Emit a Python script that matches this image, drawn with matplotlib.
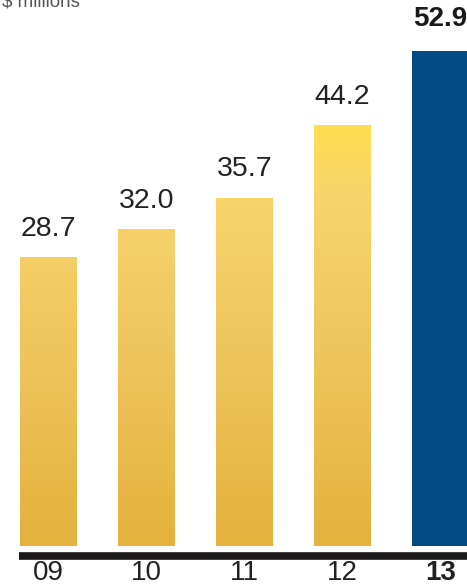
import matplotlib.pyplot as plt
from matplotlib.colors import LinearSegmentedColormap
from matplotlib.patches import Rectangle
import numpy as np

years = ['09', '10', '11', '12', '13']
values = [28.7, 32.0, 35.7, 44.2, 52.9]
labels = ['28.7', '32.0', '35.7', '44.2', '52.9']

fig = plt.figure(figsize=(4.67, 5.86), dpi=100)
ax = fig.add_axes([0, 0, 1, 1])
ax.axis('off')

bottom = -5.25
width = 0.58
x = np.arange(len(years))

# gold gradient, fixed to the y axis so taller bars get brighter tops
gold = LinearSegmentedColormap.from_list('gold', [
    (0.0, '#E4B23D'),
    (0.35, '#EDC35A'),
    (0.70, '#F8D46C'),
    (0.85, '#FFDD50'),
    (1.0, '#FFDF4E')])
grad = np.linspace(0, 1, 256).reshape(-1, 1)

for i, v in enumerate(values):
    rect = Rectangle((x[i] - width / 2, bottom), width, v - bottom,
                     facecolor='#024B85' if i == 4 else 'none',
                     edgecolor='none')
    ax.add_patch(rect)
    if i < 4:
        im = ax.imshow(grad, cmap=gold, aspect='auto', origin='lower',
                       extent=(x[i] - width / 2, x[i] + width / 2, bottom, 53))
        im.set_clip_path(rect)
        ax.text(x[i], v + 1.8, labels[i], ha='center', va='bottom',
                fontsize=20.5, family='Liberation Sans', color='#222222')
    else:
        ax.text(x[i], v + 2.2, labels[i], ha='center', va='bottom',
                fontsize=20, fontweight='heavy', family='Liberation Sans',
                color='#1a1a1a')

ax.set_xlim(-0.49, 4.27)
ax.set_ylim(-9.93, 58.9)

# baseline
ax.plot([-0.30, 4.27], [-6.35, -6.35], color='#1c1a1a', lw=5.5,
        solid_capstyle='butt')

for i, yr in enumerate(years):
    ax.text(x[i], -8.45, yr, ha='center', va='center', fontsize=20,
            family='Liberation Sans', color='#222222',
            fontweight='heavy' if i == 4 else 'normal')

fig.text(0.004, 0.996, '$ millions', ha='left', va='center', fontsize=13.5,
         family='Liberation Sans', color='#555555')

fig.savefig('out.png', dpi=100)
